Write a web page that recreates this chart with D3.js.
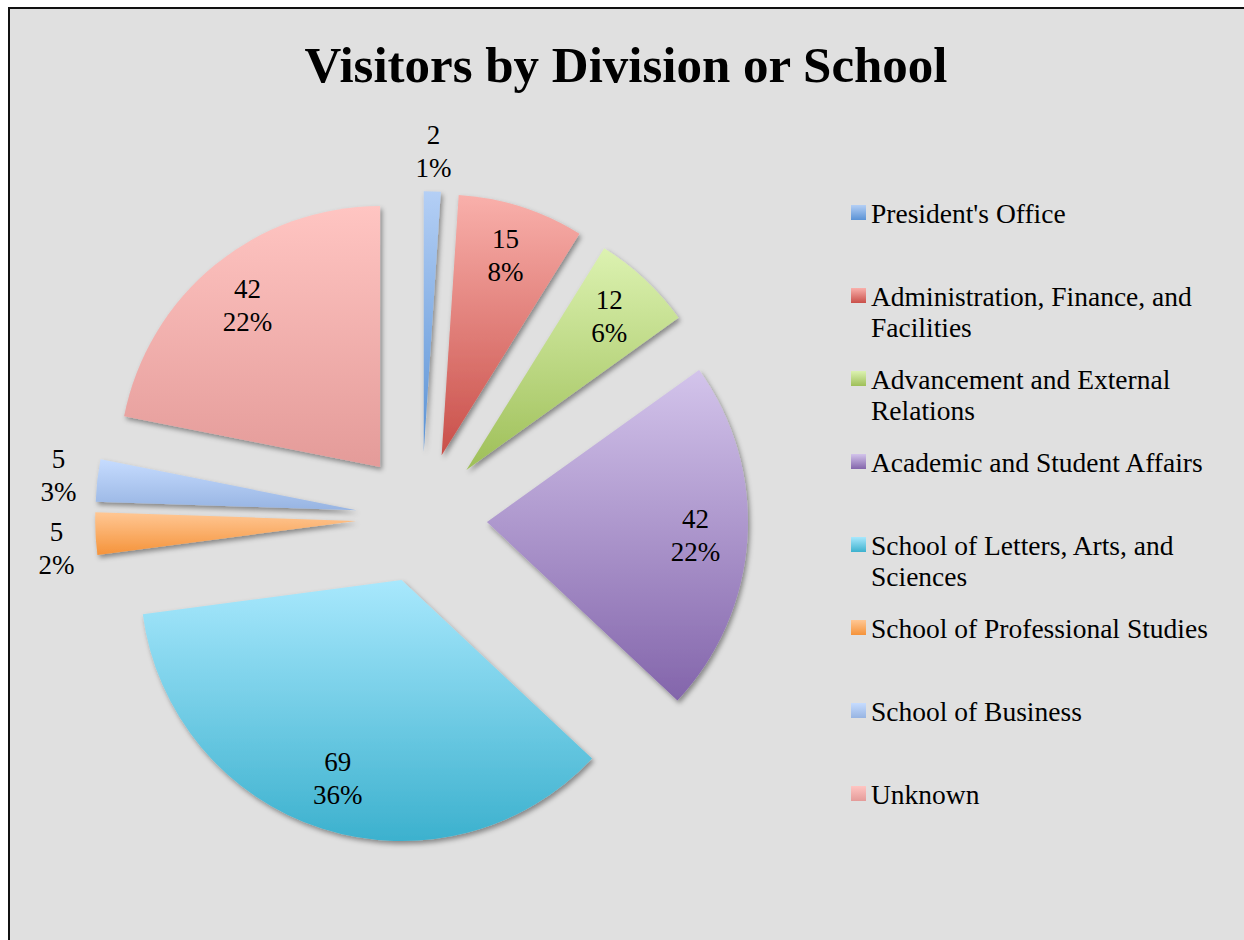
<!DOCTYPE html>
<meta charset="utf-8">
<style>
body { margin: 0; background: #fff; }
text { font-family: "Liberation Serif", serif; fill: #000; }
.title { font-weight: bold; font-size: 50px; }
.legend text { font-size: 27.5px; }
.label { font-size: 27px; }
</style>
<svg width="1244" height="940"></svg>
<script src="https://d3js.org/d3.v7.min.js"></script>
<script>
// values
var categories = ["President's Office", "Administration, Finance, and Facilities",
                  "Advancement and External Relations", "Academic and Student Affairs",
                  "School of Letters, Arts, and Sciences", "School of Professional Studies",
                  "School of Business", "Unknown"];
var values    = [2, 15, 12, 42, 69, 5, 5, 42];
var pctLabels = ["1%", "8%", "6%", "22%", "36%", "2%", "3%", "22%"];

// light top / dark bottom of each slice gradient
var topColors    = ["#b4cff5", "#f9b0ab", "#dcf2b1", "#d3c4eb", "#a8e8fd", "#ffc794", "#c6dcff", "#ffc5c2"];
var bottomColors = ["#5a92d5", "#c94f49", "#9ebf58", "#8365ab", "#3cb1ce", "#f5933a", "#97b4e2", "#e49b99"];

var svg = d3.select("svg");
var cx = 421.6, cy = 517.7, radius = 261, explode = 65.5;

// frame
svg.append("rect")
    .attr("x", 9).attr("y", 8).attr("width", 1300).attr("height", 1000)
    .attr("fill", "#e0e0e0").attr("stroke", "#111").attr("stroke-width", 2);

var defs = svg.append("defs");
var f = defs.append("filter").attr("id", "shadow")
    .attr("filterUnits", "userSpaceOnUse")
    .attr("x", -1500).attr("y", -1500).attr("width", 3000).attr("height", 3000);
f.append("feDropShadow")
    .attr("dx", 2).attr("dy", 3).attr("stdDeviation", 2.5)
    .attr("flood-color", "#000").attr("flood-opacity", 0.4);

values.forEach(function(v, i) {
    var lg = defs.append("linearGradient").attr("id", "grad" + i)
        .attr("x1", 0).attr("y1", 0).attr("x2", 0).attr("y2", 1);
    lg.append("stop").attr("offset", "0%").attr("stop-color", topColors[i]);
    lg.append("stop").attr("offset", "100%").attr("stop-color", bottomColors[i]);
});

// title
svg.append("text")
    .attr("class", "title")
    .attr("x", 626).attr("y", 82)
    .attr("text-anchor", "middle")
    .attr("textLength", 643).attr("lengthAdjust", "spacingAndGlyphs")
    .text("Visitors by Division or School");

// pie
var total = d3.sum(values);
var pie = d3.pie().sort(null).value(function(d) { return d; });
var arcs = pie(values);
var arc = d3.arc().innerRadius(0).outerRadius(radius);

function along(d, dist) {
    var a = (d.startAngle + d.endAngle) / 2;
    return [Math.sin(a) * dist, -Math.cos(a) * dist];
}

var g = svg.append("g").attr("transform", "translate(" + cx + "," + cy + ")");

g.selectAll("path")
    .data(arcs)
    .enter().append("path")
        .attr("transform", function(d) { return "translate(" + along(d, explode) + ")"; })
        .attr("d", arc)
        .attr("fill", function(d, i) { return "url(#grad" + i + ")"; })
        .attr("filter", "url(#shadow)");

// label positions: inside for big slices, outside for small ones
var pos = arcs.map(function(d) {
    var outside = d.value / total < 0.04;
    return { p: along(d, explode + (outside ? 300 : 209)), outside: outside };
});
// push apart outside labels that would collide
var outs = pos.filter(function(o) { return o.outside; })
    .sort(function(a, b) { return a.p[1] - b.p[1]; });
for (var k = 1; k < outs.length; k++) {
    var a = outs[k - 1].p, b = outs[k].p;
    if (Math.abs(a[0] - b[0]) < 60 && b[1] - a[1] < 73) b[1] = a[1] + 73;
}

var labels = g.selectAll("text.label")
    .data(arcs)
    .enter().append("text")
        .attr("class", "label")
        .attr("text-anchor", "middle")
        .attr("transform", function(d, i) { return "translate(" + pos[i].p + ")"; });
labels.append("tspan").attr("x", 0).attr("y", -8).text(function(d) { return d.value; });
labels.append("tspan").attr("x", 0).attr("y", 25).text(function(d, i) { return pctLabels[i]; });

// legend
var legend = svg.append("g").attr("class", "legend");
var item = legend.selectAll("g")
    .data(categories)
    .enter().append("g")
        .attr("transform", function(d, i) { return "translate(851," + (223 + i * 83) + ")"; });

item.append("rect")
    .attr("x", 0).attr("y", -18).attr("width", 15).attr("height", 15)
    .attr("fill", function(d, i) { return "url(#grad" + i + ")"; });

item.append("text")
    .attr("x", 20).attr("y", 0)
    .each(function(d) {
        var t = d3.select(this), words = d.split(" "), line = [], ln = 0;
        var ts = t.append("tspan").attr("x", 20).attr("dy", 0);
        words.forEach(function(w) {
            line.push(w);
            ts.text(line.join(" "));
            if (ts.node().getComputedTextLength() > 355 && line.length > 1) {
                line.pop();
                ts.text(line.join(" "));
                line = [w];
                ln++;
                ts = t.append("tspan").attr("x", 20).attr("y", ln * 31).text(w);
            }
        });
    });
</script>
